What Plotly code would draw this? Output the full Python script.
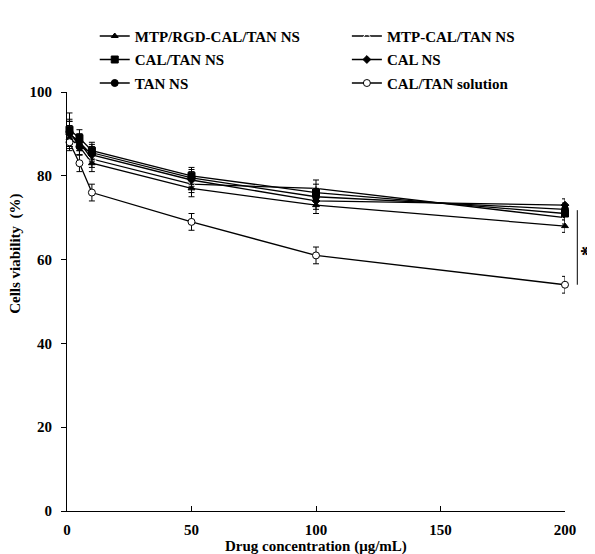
import plotly.graph_objects as go

conc = [1, 5, 10, 50, 100, 200]

names = ["MTP/RGD-CAL/TAN NS", "MTP-CAL/TAN NS", "CAL/TAN NS", "CAL NS", "TAN NS", "CAL/TAN solution"]
mtp_rgd = [89, 87, 83, 77, 73, 68]
mtp = [90, 88, 84, 78, 77, 70]
cal_tan = [91, 89, 86, 80, 76, 71]
cal = [90, 88, 85, 79, 74, 73]
tan = [90.5, 87, 85.5, 79.5, 75, 72]
solution = [88, 83, 76, 69, 61, 54]

err_mtp_rgd = [3, 2, 2, 2, 2, 1.5]
err_mtp = [3, 2, 2, 2, 2, 1.5]
err_cal_tan = [4, 2, 2, 2, 2, 1.5]
err_cal = [3, 2, 2, 2, 2, 1.5]
err_tan = [3, 2, 2, 2, 2, 1.5]
err_solution = [1.5, 2, 2, 2, 2, 2]

series = [mtp_rgd, mtp, cal_tan, cal, tan, solution]
errors = [err_mtp_rgd, err_mtp, err_cal_tan, err_cal, err_tan, err_solution]
symbols = ["triangle-up", "triangle-up-open", "square", "diamond", "circle", "circle"]
fills = ["black", "white", "black", "black", "black", "white"]
sizes = [6, 7, 7, 6, 7, 7]
legends = ["legend", "legend2", "legend", "legend2", "legend", "legend2"]

FAM = "Liberation Serif"

fig = go.Figure()
for i in range(6):
    fig.add_trace(go.Scatter(
        x=conc, y=series[i], name=names[i], mode="lines+markers",
        line=dict(color="black", width=1.3),
        marker=dict(symbol=symbols[i], size=sizes[i], color=fills[i],
                    line=dict(color="black", width=1)),
        error_y=dict(type="data", array=errors[i], color="black", thickness=1, width=3),
        legend=legends[i], legendgroup="g%d" % i, cliponaxis=False,
    ))

legfont = dict(family=FAM, size=15, color="black", weight="bold")

fig.update_layout(
    width=595, height=554,
    margin=dict(l=59.3, r=38, t=68.6, b=51.3),
    plot_bgcolor="white", paper_bgcolor="white",
    font=dict(family=FAM, size=15, color="black"),
    legend=dict(x=0.0557, y=1.1724, xanchor="left", yanchor="top", orientation="v",
                font=legfont, bgcolor="rgba(0,0,0,0)", tracegroupgap=1, itemwidth=30),
    legend2=dict(x=0.562, y=1.1724, xanchor="left", yanchor="top", orientation="v",
                 font=legfont, bgcolor="rgba(0,0,0,0)", tracegroupgap=1, itemwidth=30),
    xaxis=dict(range=[0, 200], tickvals=[0, 50, 100, 150, 200], ticks="inside", ticklen=5,
               tickcolor="black", showline=True, linecolor="black", linewidth=1,
               showgrid=False, zeroline=False, ticklabelstandoff=5,
               tickfont=dict(family=FAM, size=15, color="black", weight="bold")),
    yaxis=dict(range=[0, 100], tickvals=[0, 20, 40, 60, 80, 100], ticks="outside", ticklen=5,
               tickcolor="black", showline=True, linecolor="black", linewidth=1,
               showgrid=False, zeroline=False, ticklabelstandoff=6,
               tickfont=dict(family=FAM, size=15, color="black", weight="bold")),
)

# axis titles
fig.add_annotation(xref="paper", yref="paper", x=0.5, y=-0.0845, yanchor="middle",
                   text="<b>Drug concentration (μg/mL)</b>", showarrow=False,
                   font=dict(family=FAM, size=15, color="black"))
fig.add_annotation(xref="paper", yref="y", x=-0.105, y=61.3, xanchor="center",
                   text="<b>Cells viability  (%)</b>", showarrow=False, textangle=-90,
                   font=dict(family=FAM, size=15, color="black"))

# significance bracket
fig.add_shape(type="line", xref="paper", yref="y", x0=1.0247, x1=1.0247, y0=54, y1=71.8,
              line=dict(color="black", width=1))
fig.add_annotation(xref="paper", yref="y", x=1.06, y=62.1, text="<b>*</b>", showarrow=False,
                   textangle=90, font=dict(family=FAM, size=20, color="black"))

fig.write_html("out.html")
